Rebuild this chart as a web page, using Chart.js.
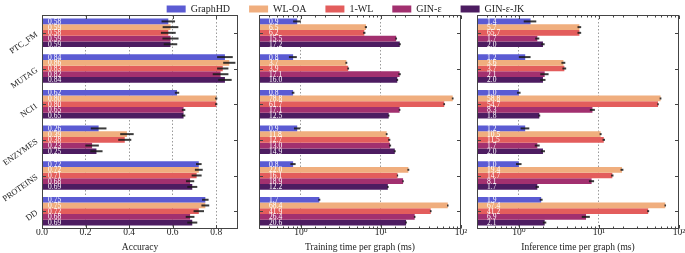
<!DOCTYPE html>
<html>
<head>
<meta charset="utf-8">
<script src="https://cdn.jsdelivr.net/npm/chart.js@4.4.1/dist/chart.umd.min.js"></script>
<style>
  body { margin: 0; background: #fff; }
  #wrap { position: relative; width: 685px; height: 253px; overflow: hidden; }
  canvas { position: absolute; }
</style>
</head>
<body>
<div id="wrap">
  <canvas id="legend-chart" width="685" height="90" style="left:3px;top:-15px"></canvas>
  <canvas id="accuracy-chart" width="240" height="253" style="left:0;top:0"></canvas>
  <canvas id="training-chart" width="228" height="253" style="left:244px;top:0"></canvas>
  <canvas id="inference-chart" width="223" height="253" style="left:462px;top:0"></canvas>
</div>
<script>
const datasetNames = ['PTC_FM', 'MUTAG', 'NCI1', 'ENZYMES', 'PROTEINS', 'DD'];
const methods = ['GraphHD', 'WL-OA', '1-WL', 'GIN-ε', 'GIN-ε-JK'];
const methodColors = ['#5b5bd3', '#f0ae7e', '#e35d5c', '#a2306f', '#4d1c61'];
const accuracyTicks = [0, 0.2, 0.4, 0.6, 0.8];

// one row per method, one value per dataset
const accuracy = [
    [0.58, 0.84, 0.62, 0.26, 0.72, 0.75],
    [0.59, 0.86, 0.80, 0.39, 0.72, 0.75],
    [0.58, 0.83, 0.80, 0.38, 0.71, 0.72],
    [0.59, 0.82, 0.65, 0.23, 0.68, 0.68],
    [0.59, 0.84, 0.65, 0.25, 0.69, 0.69]
];
const accuracyErr = [
    [0.031, 0.036, 0.010, 0.036, 0.013, 0.015],
    [0.036, 0.028, 0.005, 0.031, 0.018, 0.018],
    [0.034, 0.026, 0.005, 0.030, 0.023, 0.024],
    [0.037, 0.036, 0.008, 0.031, 0.019, 0.020],
    [0.031, 0.031, 0.008, 0.028, 0.023, 0.023]
];
const trainTime = [
    [0.9, 0.8, 0.8, 0.9, 0.8, 1.7],
    [6.5, 3.7, 78.8, 11.8, 22.0, 68.4],
    [6.2, 3.9, 61.7, 12.7, 16.1, 41.9],
    [15.5, 17.1, 17.1, 13.0, 18.9, 26.4],
    [17.2, 16.0, 12.5, 14.9, 12.2, 20.6]
];
const trainTimeErr = [
    [0.1, 0.09, 0.03, 0.08, 0.06, 0.05],
    [0.2, 0.1, 2.0, 0.3, 0.6, 1.5],
    [0.2, 0.1, 1.5, 0.4, 0.3, 1.0],
    [0.4, 0.6, 0.4, 0.4, 0.4, 0.6],
    [0.5, 0.4, 0.3, 0.4, 0.3, 0.5]
];
const inferTime = [
    [1.4, 1.2, 1.0, 1.2, 1.0, 1.9],
    [5.7, 3.6, 58.8, 10.5, 19.4, 67.4],
    [5.7, 3.7, 54.7, 11.5, 14.7, 41.2],
    [1.7, 2.1, 8.3, 1.7, 8.1, 6.9],
    [2.0, 2.0, 1.8, 2.0, 1.7, 2.1]
];
const inferTimeErr = [
    [0.25, 0.2, 0.05, 0.15, 0.08, 0.08],
    [0.3, 0.2, 1.5, 0.3, 0.8, 1.5],
    [0.3, 0.2, 1.2, 0.4, 0.5, 1.2],
    [0.1, 0.25, 0.6, 0.12, 0.6, 0.8],
    [0.1, 0.15, 0.05, 0.12, 0.08, 0.1]
];
// label printed in the figure differs from the bar here: [method, dataset, text]
const inferTextFix = [[2, 0, '65.7']];

const serif = '"Liberation Serif", "DejaVu Serif", serif';

// error bars, value labels, rotated category names and a framed box with inward ticks
const barExtras = {
    id: 'barExtras',
    afterDatasetsDraw(chart, args, opts) {
        const {ctx, chartArea} = chart;
        const xs = chart.scales.x, ys = chart.scales.y;
        ctx.save();
        chart.data.datasets.forEach((ds, i) => {
            chart.getDatasetMeta(i).data.forEach((bar, j) => {
                const v = ds.data[j], e = ds.errors[j];
                ctx.strokeStyle = 'rgba(25,25,25,0.85)';
                ctx.lineWidth = 2;
                ctx.beginPath();
                ctx.moveTo(xs.getPixelForValue(v - e), bar.y);
                ctx.lineTo(xs.getPixelForValue(v + e), bar.y);
                ctx.stroke();
                ctx.fillStyle = '#fff';
                ctx.font = '7.5px ' + serif;
                ctx.textBaseline = 'middle';
                ctx.textAlign = 'left';
                ctx.fillText(ds.texts[j], chartArea.left + opts.textOffset, bar.y + 0.5);
            });
        });
        ctx.strokeStyle = '#444';
        ctx.lineWidth = 1;
        const L = Math.round(chartArea.left) + 0.5, R = Math.round(chartArea.right) - 0.5;
        const T = Math.round(chartArea.top) + 0.5, B = Math.round(chartArea.bottom) - 0.5;
        ctx.strokeRect(L, T, R - L, B - T);
        ctx.beginPath();
        xs.ticks.forEach(t => {
            const x = Math.round(xs.getPixelForValue(t.value)) + 0.5;
            const lg = Math.log10(t.value);
            const len = xs.type === 'logarithmic' && Math.abs(lg - Math.round(lg)) > 1e-6 ? 2 : 3.5;
            ctx.moveTo(x, B); ctx.lineTo(x, B - len);
            ctx.moveTo(x, T); ctx.lineTo(x, T + len);
        });
        ys.ticks.forEach((t, k) => {
            const y = Math.round(ys.getPixelForValue(k)) + 0.5;
            ctx.moveTo(L, y); ctx.lineTo(L + 3.5, y);
            ctx.moveTo(R, y); ctx.lineTo(R - 3.5, y);
        });
        ctx.stroke();
        if (opts.categoryNames) {
            ctx.fillStyle = '#222';
            ctx.font = '8.5px ' + serif;
            ctx.textAlign = 'right';
            ctx.textBaseline = 'middle';
            chart.data.labels.forEach((name, k) => {
                ctx.save();
                ctx.translate(chartArea.left - 5, ys.getPixelForValue(k) + 1);
                ctx.rotate(-35 * Math.PI / 180);
                ctx.fillText(name, 0, 0);
                ctx.restore();
            });
        }
        ctx.restore();
    }
};

function makePanel(id, values, errors, texts, xScale, yWidth, rightPad, textOffset, categoryNames) {
    const datasets = methods.map((m, i) => ({
        label: m,
        data: values[i],
        errors: errors[i],
        texts: texts[i],
        backgroundColor: methodColors[i],
        borderWidth: 0,
        categoryPercentage: 0.8,
        barPercentage: 1.0
    }));
    return new Chart(document.getElementById(id), {
        type: 'bar',
        data: { labels: datasetNames, datasets: datasets },
        plugins: [barExtras],
        options: {
            indexAxis: 'y',
            responsive: false,
            animation: false,
            layout: { padding: { top: 15, right: rightPad, left: 0, bottom: 0 } },
            plugins: {
                legend: { display: false },
                tooltip: { enabled: false },
                barExtras: { textOffset: textOffset, categoryNames: categoryNames }
            },
            scales: {
                x: xScale,
                y: {
                    grid: { display: false },
                    border: { display: false },
                    ticks: { display: false },
                    afterFit(scale) { scale.width = yWidth; }
                }
            }
        }
    });
}

function xTitle(text) {
    return { display: true, text: text, color: '#222', font: { family: serif, size: 9.5 }, padding: { top: 0, bottom: 0 } };
}

const accTexts = accuracy.map(r => r.map(v => v.toFixed(2)));
const trainTexts = trainTime.map(r => r.map(v => v.toFixed(1)));
const inferTexts = inferTime.map(r => r.map(v => v.toFixed(1)));
inferTextFix.forEach(([m, d, t]) => { inferTexts[m][d] = t; });

const sup = {0: '⁰', 1: '¹', 2: '²'};
function logAxis(title) {
    const isPow = v => Math.abs(Math.log10(v) - Math.round(Math.log10(v))) < 1e-6;
    return {
        type: 'logarithmic',
        min: 0.3,
        max: 100,
        ticks: {
            autoSkip: false, maxRotation: 0, padding: -2, color: '#222',
            font: { family: serif, size: 9.5 },
            callback: v => isPow(v) ? '10' + sup[Math.round(Math.log10(v))] : ''
        },
        grid: {
            drawTicks: false,
            color: ctx => ctx.tick && isPow(ctx.tick.value) && ctx.tick.value > 0.5 && ctx.tick.value < 99 ? '#9a9a9a' : 'transparent'
        },
        border: { display: false, dash: [1.5, 2] },
        title: xTitle(title),
        afterFit(scale) { scale.height = 24; }
    };
}

const accuracyGraph = makePanel('accuracy-chart', accuracy, accuracyErr, accTexts, {
    type: 'linear',
    min: 0,
    max: 0.9,
    afterBuildTicks(scale) {
        scale.ticks = accuracyTicks.map(v => ({ value: v }));
    },
    ticks: { padding: -2, color: '#222', font: { family: serif, size: 9.5 }, callback: v => v.toFixed(1) },
    grid: { drawTicks: false, color: ctx => ctx.tick && ctx.tick.value > 0.01 ? '#9a9a9a' : 'transparent' },
    border: { display: false, dash: [1.5, 2] },
    title: xTitle('Accuracy'),
    afterFit(scale) { scale.height = 24; }
}, 42, 2, 6, true);

const trainingGraph = makePanel('training-chart', trainTime, trainTimeErr, trainTexts,
    logAxis('Training time per graph (ms)'), 15, 11, 10, false);

const inferenceGraph = makePanel('inference-chart', inferTime, inferTimeErr, inferTexts,
    logAxis('Inference time per graph (ms)'), 15, 6, 10, false);

// shared legend on top
const legendGraph = new Chart(document.getElementById('legend-chart'), {
    type: 'bar',
    data: {
        labels: ['x'],
        datasets: methods.map((m, i) => ({ label: m, data: [null], backgroundColor: methodColors[i], borderWidth: 0 }))
    },
    options: {
        responsive: false,
        animation: false,
        scales: { x: { display: false }, y: { display: false } },
        plugins: {
            tooltip: { enabled: false },
            legend: {
                display: true,
                labels: { boxWidth: 19, boxHeight: 7, padding: 19, color: '#222', font: { family: serif, size: 10 } }
            }
        }
    }
});
</script>
</body>
</html>
